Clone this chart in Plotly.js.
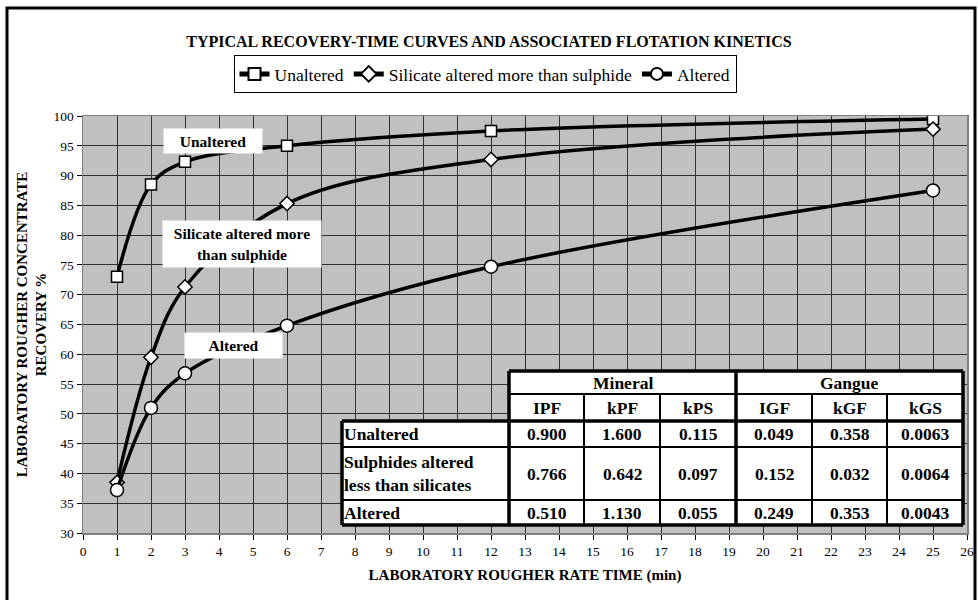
<!DOCTYPE html>
<html><head><meta charset="utf-8">
<script src="https://cdn.plot.ly/plotly-3.0.1.min.js"></script>
<style>html,body{margin:0;padding:0;background:#fff}#c{width:978px;height:600px}</style>
</head><body><div id="c"></div>
<script>
// ---- data ----
const timeMin = [1, 2, 3, 6, 12, 25];
const unaltered = [73.0, 88.5, 92.3, 95.0, 97.5, 99.5];
const silicateAltered = [38.5, 59.5, 71.3, 85.3, 92.7, 97.8];
const altered = [37.2, 51.0, 56.8, 64.8, 74.7, 87.5];
const seriesNames = ["Unaltered", "Silicate altered more than sulphide", "Altered"];

// kinetics table
const tableGroups = ["Mineral", "Gangue"];
const tableCols = ["IPF", "kPF", "kPS", "IGF", "kGF", "kGS"];
const tableRows = ["Unaltered", "Sulphides altered<br>less than silicates", "Altered"];
const rowUnaltered = ["0.900", "1.600", "0.115", "0.049", "0.358", "0.0063"];
const rowSulphides = ["0.766", "0.642", "0.097", "0.152", "0.032", "0.0064"];
const rowAltered = ["0.510", "1.130", "0.055", "0.249", "0.353", "0.0043"];
const tableValues = [rowUnaltered, rowSulphides, rowAltered];

// ---- layout helpers (pixel -> paper) ----
const L = 83, R = 967, T = 116, B = 533;
const px = x => (x - L) / (R - L);
const py = y => (B - y) / (B - T);
const serif = "Liberation Serif, Times New Roman, serif";

const lineStyle = {color: "#000", width: 3.5, shape: "spline", smoothing: 1.0};
const traces = [
  {x: timeMin, y: unaltered, name: seriesNames[0], mode: "lines+markers", line: lineStyle,
   marker: {symbol: "square", size: 11, color: "#fff", line: {color: "#000", width: 1.5}}},
  {x: timeMin, y: silicateAltered, name: seriesNames[1], mode: "lines+markers", line: lineStyle,
   marker: {symbol: "diamond", size: 11, color: "#fff", line: {color: "#000", width: 1.5}}},
  {x: timeMin, y: altered, name: seriesNames[2], mode: "lines+markers", line: lineStyle,
   marker: {symbol: "circle", size: 13, color: "#fff", line: {color: "#000", width: 1.5}}}
];

const shapes = [];
const annotations = [];

// outer frame
shapes.push({type: "rect", xref: "paper", yref: "paper", x0: px(7), x1: px(975), y0: py(610), y1: py(8),
  line: {color: "#000", width: 3}, fillcolor: "rgba(0,0,0,0)", layer: "above"});

// series label boxes
const labelBoxes = [
  {text: "Unaltered", cx: 213, cy: 141, w: 98, h: 24},
  {text: "Silicate altered more<br>than sulphide", cx: 242, cy: 244, w: 158, h: 46},
  {text: "Altered", cx: 233, cy: 345, w: 97, h: 25}
];
labelBoxes.forEach(b => annotations.push({
  xref: "paper", yref: "paper", x: px(b.cx), y: py(b.cy), xanchor: "center", yanchor: "middle",
  text: "<b>" + b.text + "</b>", showarrow: false, bgcolor: "#fff", width: b.w, height: b.h, borderpad: 0,
  font: {family: serif, size: 15.5, color: "#000"}
}));

// ---- table geometry (pixels) ----
const colX = [342, 509, 584, 660, 736, 812, 887, 963];
const rowY = [371, 394, 421, 447, 500, 525];
shapes.push({type: "rect", xref: "paper", yref: "paper", x0: px(colX[1]), x1: px(colX[7]), y0: py(rowY[2]), y1: py(rowY[0]),
  fillcolor: "#fff", line: {width: 0}, layer: "above"});
shapes.push({type: "rect", xref: "paper", yref: "paper", x0: px(colX[0]), x1: px(colX[7]), y0: py(rowY[5]), y1: py(rowY[2]),
  fillcolor: "#fff", line: {width: 0}, layer: "above"});
function hline(x0, x1, y, w) {
  shapes.push({type: "line", xref: "paper", yref: "paper", x0: px(x0), x1: px(x1), y0: py(y), y1: py(y),
    line: {color: "#000", width: w}, layer: "above"});
}
function vline(x, y0, y1, w) {
  shapes.push({type: "line", xref: "paper", yref: "paper", x0: px(x), x1: px(x), y0: py(y0), y1: py(y1),
    line: {color: "#000", width: w}, layer: "above"});
}
hline(colX[1], colX[7], rowY[0], 3.5);
hline(colX[1], colX[7], rowY[1], 2);
hline(colX[0], colX[7], rowY[2], 3.5);
hline(colX[0], colX[7], rowY[3], 2);
hline(colX[0], colX[7], rowY[4], 2);
hline(colX[0], colX[7], rowY[5], 3.5);
vline(colX[0], rowY[2], rowY[5], 3.5);
vline(colX[1], rowY[0], rowY[5], 3.5);
vline(colX[2], rowY[1], rowY[5], 2);
vline(colX[3], rowY[1], rowY[5], 2);
vline(colX[4], rowY[0], rowY[5], 3.5);
vline(colX[5], rowY[1], rowY[5], 2);
vline(colX[6], rowY[1], rowY[5], 2);
vline(colX[7], rowY[0], rowY[5], 3.5);

const tFont = {family: serif, size: 17.5, color: "#000"};
function cellText(t, cx, cy, align) {
  annotations.push({xref: "paper", yref: "paper", x: px(cx), y: py(cy),
    xanchor: align === "left" ? "left" : "center", yanchor: "middle", align: align || "center",
    text: "<b>" + t + "</b>", showarrow: false, font: tFont});
}
cellText(tableGroups[0], (colX[1] + colX[4]) / 2, (rowY[0] + rowY[1]) / 2);
cellText(tableGroups[1], (colX[4] + colX[7]) / 2, (rowY[0] + rowY[1]) / 2);
tableCols.forEach((c, i) => cellText(c, (colX[i + 1] + colX[i + 2]) / 2, (rowY[1] + rowY[2]) / 2));
tableRows.forEach((r, j) => {
  const cy = (rowY[j + 2] + rowY[j + 3]) / 2;
  cellText(r, colX[0], cy, "left");
  tableValues[j].forEach((v, i) => cellText(v, (colX[i + 1] + colX[i + 2]) / 2, cy));
});

const layout = {
  width: 978, height: 600,
  margin: {l: L, r: 978 - R, t: T, b: 600 - B, pad: 0},
  paper_bgcolor: "#fff", plot_bgcolor: "#c0c0c0",
  font: {family: serif, size: 13, color: "#000"},
  title: {text: "<b>TYPICAL RECOVERY-TIME CURVES AND ASSOCIATED FLOTATION KINETICS</b>",
    x: 0.5, xanchor: "center", y: 1 - 41 / 600, yanchor: "middle", font: {family: serif, size: 16, color: "#000"}},
  showlegend: true,
  legend: {orientation: "h", x: px(485), xanchor: "center", y: py(55), yanchor: "top",
    bordercolor: "#000", borderwidth: 1, bgcolor: "#fff", font: {family: serif, size: 17.5, color: "#000"},
    itemwidth: 30, itemsizing: "constant", tracegroupgap: 0},
  xaxis: {range: [0, 26], dtick: 1, tick0: 0, showgrid: true, gridcolor: "#303030", gridwidth: 1,
    zeroline: false, showline: true, linecolor: "#808080", linewidth: 1.5, mirror: true,
    ticks: "outside", ticklen: 5, tickcolor: "#000", tickfont: {family: serif, size: 13.5, color: "#000"},
    title: {text: "<b>LABORATORY ROUGHER RATE TIME (min)</b>", standoff: 12, font: {family: serif, size: 15, color: "#000"}},
    fixedrange: true},
  yaxis: {range: [30, 100], dtick: 5, tick0: 30, showgrid: true, gridcolor: "#303030", gridwidth: 1,
    zeroline: false, showline: true, linecolor: "#808080", linewidth: 1.5, mirror: true,
    ticks: "outside", ticklen: 5, tickcolor: "#000", tickfont: {family: serif, size: 13.5, color: "#000"},
    title: {text: "<b>LABORATORY ROUGHER CONCENTRATE<br>RECOVERY %</b>", standoff: 3, font: {family: serif, size: 15, color: "#000"}},
    fixedrange: true},
  shapes: shapes,
  annotations: annotations
};

Plotly.newPlot("c", traces, layout, {displayModeBar: false, staticPlot: true});
</script>
</body></html>
